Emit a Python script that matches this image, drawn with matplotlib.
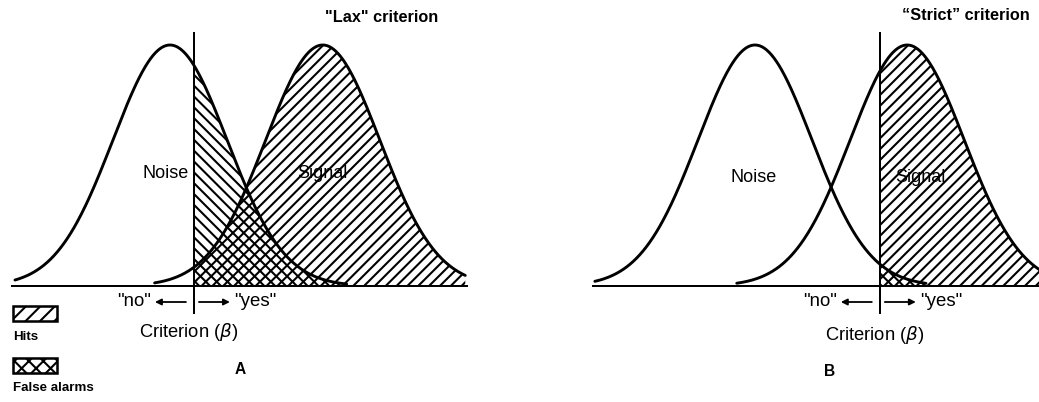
import numpy as np
import matplotlib
matplotlib.use("Agg")
import matplotlib.pyplot as plt
from matplotlib.patches import Rectangle

# ---------------- data ----------------
panels = ["A", "B"]
titles = ['"Lax" criterion', '\u201cStrict\u201d criterion']
noise_mean = [0.0, 0.0]
signal_mean = [2.68, 2.67]
sigma = [1.0, 1.0]
criterion = [0.42, 2.19]
noise_range = [(-2.72, 3.1), (-2.81, 3.0)]
signal_range = [(-0.27, 5.18), (-0.32, 5.1)]
baseline_range = [(-2.77, 5.21), (-2.84, 5.1)]
legend_labels = ["Hits", "False alarms"]
legend_hatches = ["///", "xxx"]

# ---------------- layout ----------------
W, H, DPI = 1039, 402, 130
PX_SIGMA = 57.0      # pixels per sigma
BASE_PX = 286.0      # baseline (pixels from top)
PEAK_PX = 241.0      # pixel height of a unit peak
panel_px = [(0, 520, 170), (520, 1039, 755)]   # left, right, noise-mean pixel

plt.rcParams["font.family"] = ["Liberation Sans", "DejaVu Sans"]
plt.rcParams["mathtext.fontset"] = "dejavusans"
plt.rcParams["hatch.linewidth"] = 1.15

fig = plt.figure(figsize=(W / DPI, H / DPI), dpi=DPI)
fig.patch.set_facecolor("white")


def pxs(dx):
    return dx / PX_SIGMA


def pyh(py):
    return (BASE_PX - py) / PEAK_PX


title_px = [(325, 17), (902, 15)]
noise_lbl_px = [(166, 173), (754, 178)]
signal_lbl_px = [(322, 173), (920, 178)]
letter_px = [(240, 370), (830, 372)]
crit_lbl_y = [332, 335]

for i in range(2):
    lpx, rpx, mpx = panel_px[i]
    ax = fig.add_axes([lpx / W, 0, (rpx - lpx) / W, 1])
    ax.set_xlim((lpx - mpx) / PX_SIGMA, (rpx - mpx) / PX_SIGMA)
    ax.set_ylim((BASE_PX - H) / PEAK_PX, BASE_PX / PEAK_PX)
    ax.axis("off")

    mu_n, mu_s, s, c = noise_mean[i], signal_mean[i], sigma[i], criterion[i]
    zn = np.linspace(noise_range[i][0], noise_range[i][1], 400)
    zs = np.linspace(signal_range[i][0], signal_range[i][1], 400)
    hn = np.exp(-0.5 * ((zn - mu_n) / s) ** 2)
    hs = np.exp(-0.5 * ((zs - mu_s) / s) ** 2)

    # hatched regions right of criterion
    zs_r = np.linspace(c, signal_range[i][1], 400)
    zn_r = np.linspace(c, noise_range[i][1], 400)
    ax.fill_between(zs_r, 0, np.exp(-0.5 * ((zs_r - mu_s) / s) ** 2),
                    facecolor="none", edgecolor="black", linewidth=0, hatch="////")
    ax.fill_between(zn_r, 0, np.exp(-0.5 * ((zn_r - mu_n) / s) ** 2),
                    facecolor="none", edgecolor="black", linewidth=0,
                    hatch="\\\\\\\\")

    ax.plot(zn, hn, color="black", lw=1.6, solid_capstyle="round")
    ax.plot(zs, hs, color="black", lw=1.6, solid_capstyle="round")
    ax.plot(baseline_range[i], [0, 0], color="black", lw=1.1)
    ax.plot([c, c], [pyh(33), pyh(313)], color="black", lw=1.1, clip_on=False)

    # no / yes arrows
    ya = pyh(302)
    arr = dict(arrowstyle="-|>", lw=1.0, color="black", mutation_scale=7,
               shrinkA=0, shrinkB=0)
    ax.annotate("", xy=(c + pxs(-39), ya), xytext=(c + pxs(-8), ya), arrowprops=arr)
    ax.annotate("", xy=(c + pxs(36), ya), xytext=(c + pxs(5), ya), arrowprops=arr)
    ax.text(c + pxs(-43), ya, '"no"', ha="right", va="center", fontsize=10.3)
    ax.text(c + pxs(40), ya, '"yes"', ha="left", va="center", fontsize=10.3)
    ax.text(c + pxs(-5), pyh(crit_lbl_y[i]), "Criterion ($\\beta$)",
            ha="center", va="center", fontsize=10.2)

    # labels
    ax.text((title_px[i][0] - mpx) / PX_SIGMA, pyh(title_px[i][1]), titles[i],
            ha="left", va="center", fontsize=9.0, fontweight="bold")
    ax.text((noise_lbl_px[i][0] - mpx) / PX_SIGMA, pyh(noise_lbl_px[i][1]), "Noise",
            ha="center", va="center", fontsize=10)
    ax.text((signal_lbl_px[i][0] - mpx) / PX_SIGMA, pyh(signal_lbl_px[i][1]), "Signal",
            ha="center", va="center", fontsize=10)
    ax.text((letter_px[i][0] - mpx) / PX_SIGMA, pyh(letter_px[i][1]), panels[i],
            ha="center", va="center", fontsize=8.6, fontweight="bold")

# legend (bottom left)
box_tops = [306, 358]
lbl_y = [337, 388]
for lab, hat, top, ly in zip(legend_labels, legend_hatches, box_tops, lbl_y):
    fig.add_artist(Rectangle((13 / W, 1 - (top + 15) / H), 44 / W, 15 / H,
                             transform=fig.transFigure, fill=False, hatch=hat,
                             edgecolor="black", lw=1.4))
    fig.text(13 / W, 1 - ly / H, lab, ha="left", va="center",
             fontsize=7.4, fontweight="bold")

fig.savefig("out.png", dpi=DPI)
